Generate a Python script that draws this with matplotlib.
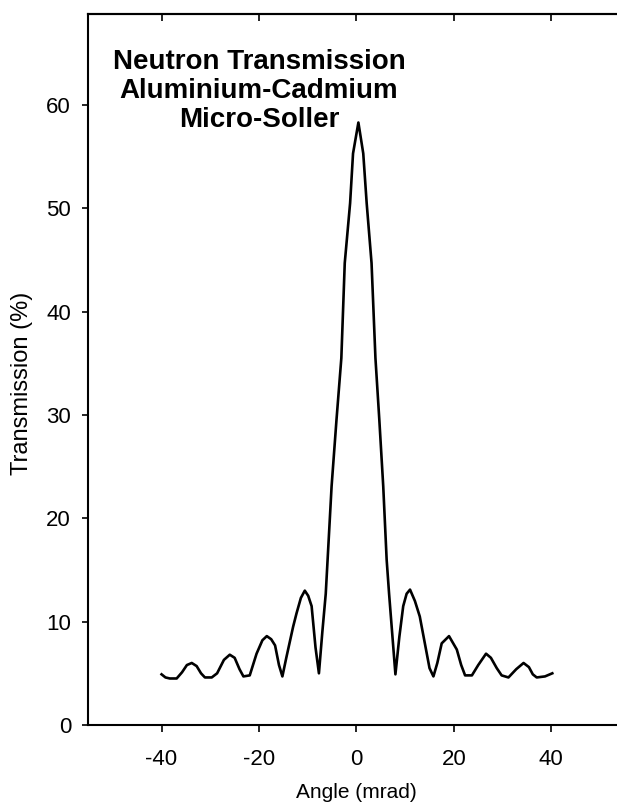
import matplotlib

matplotlib.use("Agg")
import matplotlib.pyplot as plt


# values (angle in mrad, transmission in %)
angle_mrad = [
    -40.0, -39.2, -38.3, -36.9, -35.8, -34.8, -33.8, -32.8, -31.9, -31.1,
    -29.7, -28.6, -27.2, -26.0, -25.0, -24.0, -23.2, -21.9, -20.5, -19.3,
    -18.4, -17.5, -16.7, -15.9, -15.2, -14.4, -13.0, -12.3, -11.4, -10.6,
    -9.9, -9.2, -8.4, -7.7, -7.0, -6.3, -5.1, -4.1, -3.1, -2.4,
    -1.3, -0.7, 0.4, 1.4, 2.1, 3.1, 3.9, 4.7, 5.5, 6.2,
    6.7, 8.0, 8.8, 9.6, 10.3, 11.0, 12.0, 13.0, 14.2, 15.0,
    15.8, 16.6, 17.5, 19.0, 20.6, 21.5, 22.3, 23.7, 25.0, 26.6,
    27.6, 28.8, 29.8, 31.2, 32.8, 34.3, 35.4, 36.2, 37.0, 38.7,
    40.2,
]
transmission_pct = [
    4.9, 4.6, 4.5, 4.5, 5.1, 5.8, 6.0, 5.7, 5.0, 4.6,
    4.6, 5.0, 6.3, 6.8, 6.5, 5.4, 4.7, 4.8, 6.9, 8.2,
    8.6, 8.3, 7.7, 5.8, 4.7, 6.5, 9.5, 10.8, 12.3, 13.0,
    12.5, 11.5, 7.5, 5.0, 9.0, 12.7, 23.1, 29.5, 35.5, 44.7,
    50.5, 55.3, 58.3, 55.3, 50.5, 44.7, 35.5, 29.5, 23.1, 16.0,
    12.7, 4.9, 8.5, 11.5, 12.7, 13.1, 12.0, 10.5, 7.5, 5.5,
    4.7, 6.0, 7.9, 8.6, 7.3, 5.8, 4.8, 4.8, 5.8, 6.9,
    6.5, 5.5, 4.8, 4.6, 5.4, 6.0, 5.6, 4.9, 4.6, 4.7,
    5.0,
]

x_ticks = [-40, -20, 0, 20, 40]
y_ticks = [0, 10, 20, 30, 40, 50, 60]
title_lines = ["Neutron Transmission", "Aluminium-Cadmium", "Micro-Soller"]

plt.rcParams["font.family"] = ["Liberation Sans", "DejaVu Sans"]

fig = plt.figure(figsize=(6.17, 8.05), dpi=100)
# the scan is cut just before the right spine
ax = fig.add_axes([0.1434, 0.0994, 0.8686, 0.8832])

ax.plot(angle_mrad, transmission_pct, color="black", linewidth=1.9,
        solid_joinstyle="round")

ax.set_xlim(-55, 55)
ax.set_ylim(0, 68.8)
ax.set_xticks(x_ticks)
ax.set_xticklabels([str(t) for t in x_ticks])
ax.set_yticks(y_ticks)

ax.spines["right"].set_visible(False)
for side in ["left", "bottom", "top"]:
    ax.spines[side].set_linewidth(1.5)

ax.tick_params(axis="x", direction="out", length=5, width=1.2, pad=12, labelsize=16)
ax.tick_params(axis="y", direction="out", length=4.5, width=1.2, pad=8, labelsize=16)

top = ax.secondary_xaxis("top")
top.set_xticks(x_ticks)
top.tick_params(direction="in", length=5, width=1.2, labeltop=False)
top.spines["top"].set_linewidth(1.5)

ax.set_xlabel("Angle (mrad)", fontsize=15)
ax.set_ylabel("Transmission (%)", fontsize=17)
ax.xaxis.set_label_coords(0.5, -0.0956)
ax.xaxis.label.set_va("center")
ax.yaxis.set_label_coords(-0.124, 0.48)
ax.yaxis.label.set_va("center")

ax.text(-20, 65.4, "\n".join(title_lines), ha="center", va="top",
        fontsize=20, fontweight="bold", linespacing=1.15)

fig.savefig("out.png", dpi=100)
